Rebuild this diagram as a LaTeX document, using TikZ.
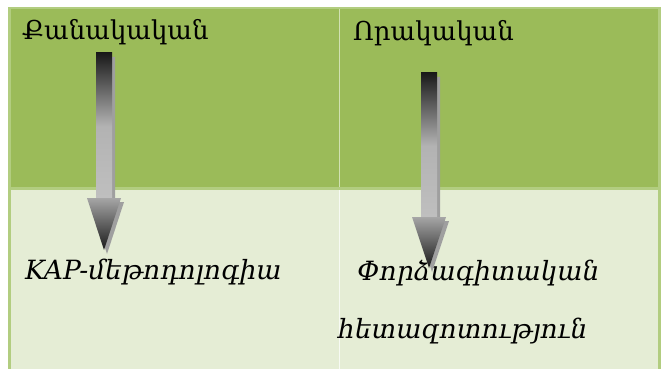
\documentclass[tikz,border=0pt]{standalone}
\usepackage{fontspec}
\setmainfont{DejaVu Serif}
\usepackage{xcolor}
\usetikzlibrary{positioning}

\definecolor{headgreen}{RGB}{155,187,89}
\definecolor{bodygreen}{RGB}{229,237,213}
\definecolor{rulegreen}{RGB}{178,205,128}

\tikzset{
  head/.style={anchor=base west, inner sep=0pt, font=\fontsize{26}{31}\selectfont},
  body/.style={anchor=base west, inner sep=0pt, font=\fontsize{26.5}{31}\selectfont\itshape},
  shaft/.style={top color=black!90, bottom color=gray!50, middle color=gray!60, draw=none},
  tip/.style={top color=gray!70, bottom color=black!90, draw=none},
  shadow/.style={fill=gray!75, draw=none}
}

\begin{document}
\begin{tikzpicture}[x=1pt, y=-1pt]
  \useasboundingbox (0,0) rectangle (664,369);
  % table cells
  \fill[white] (0,0) rectangle (664,369);
  \fill[rulegreen] (8,7) rectangle (661,369);
  \fill[headgreen] (11,9) rectangle (658,187);
  \fill[bodygreen] (11,190) rectangle (658,369);
  \draw[rulegreen!60!white, line width=1pt] (339.5,9) -- (339.5,187);
  \draw[white!70!bodygreen, line width=1pt] (339.5,190) -- (339.5,369);

  % header texts
  \node[head] (quant) at (22,40) {Քանակական};
  \node[head] (qual) at (353,41) {Որակական};

  % body texts
  \node[body] (kap) at (25,279) {KAP-մեթոդոլոգիա};
  \node[body] (expert) at (357,280) {Փորձագիտական};
  \node[body] (study) at (338,338) {հետազոտություն};

  % left arrow
  \coordinate (la) at (104,53);
  \fill[shadow] ([xshift=3pt,yshift=-4pt]la) ++(-8,0) -- ++(16,0) -- ++(0,145)
    -- ++(9,0) -- ++(-17,52) -- ++(-17,-52) -- ++(9,0) -- cycle;
  \shade[shaft] ([xshift=-8pt]la) rectangle ([xshift=8pt,yshift=-146pt]la);
  \shade[tip] ([xshift=-17pt,yshift=-145pt]la) -- ([xshift=17pt,yshift=-145pt]la)
    -- ([yshift=-197pt]la) -- cycle;

  % right arrow
  \coordinate (ra) at (429,73);
  \fill[shadow] ([xshift=3pt,yshift=-4pt]ra) ++(-8,0) -- ++(16,0) -- ++(0,144)
    -- ++(9,0) -- ++(-17,51) -- ++(-17,-51) -- ++(9,0) -- cycle;
  \shade[shaft] ([xshift=-8pt]ra) rectangle ([xshift=8pt,yshift=-145pt]ra);
  \shade[tip] ([xshift=-17pt,yshift=-144pt]ra) -- ([xshift=17pt,yshift=-144pt]ra)
    -- ([yshift=-195pt]ra) -- cycle;
\end{tikzpicture}
\end{document}
